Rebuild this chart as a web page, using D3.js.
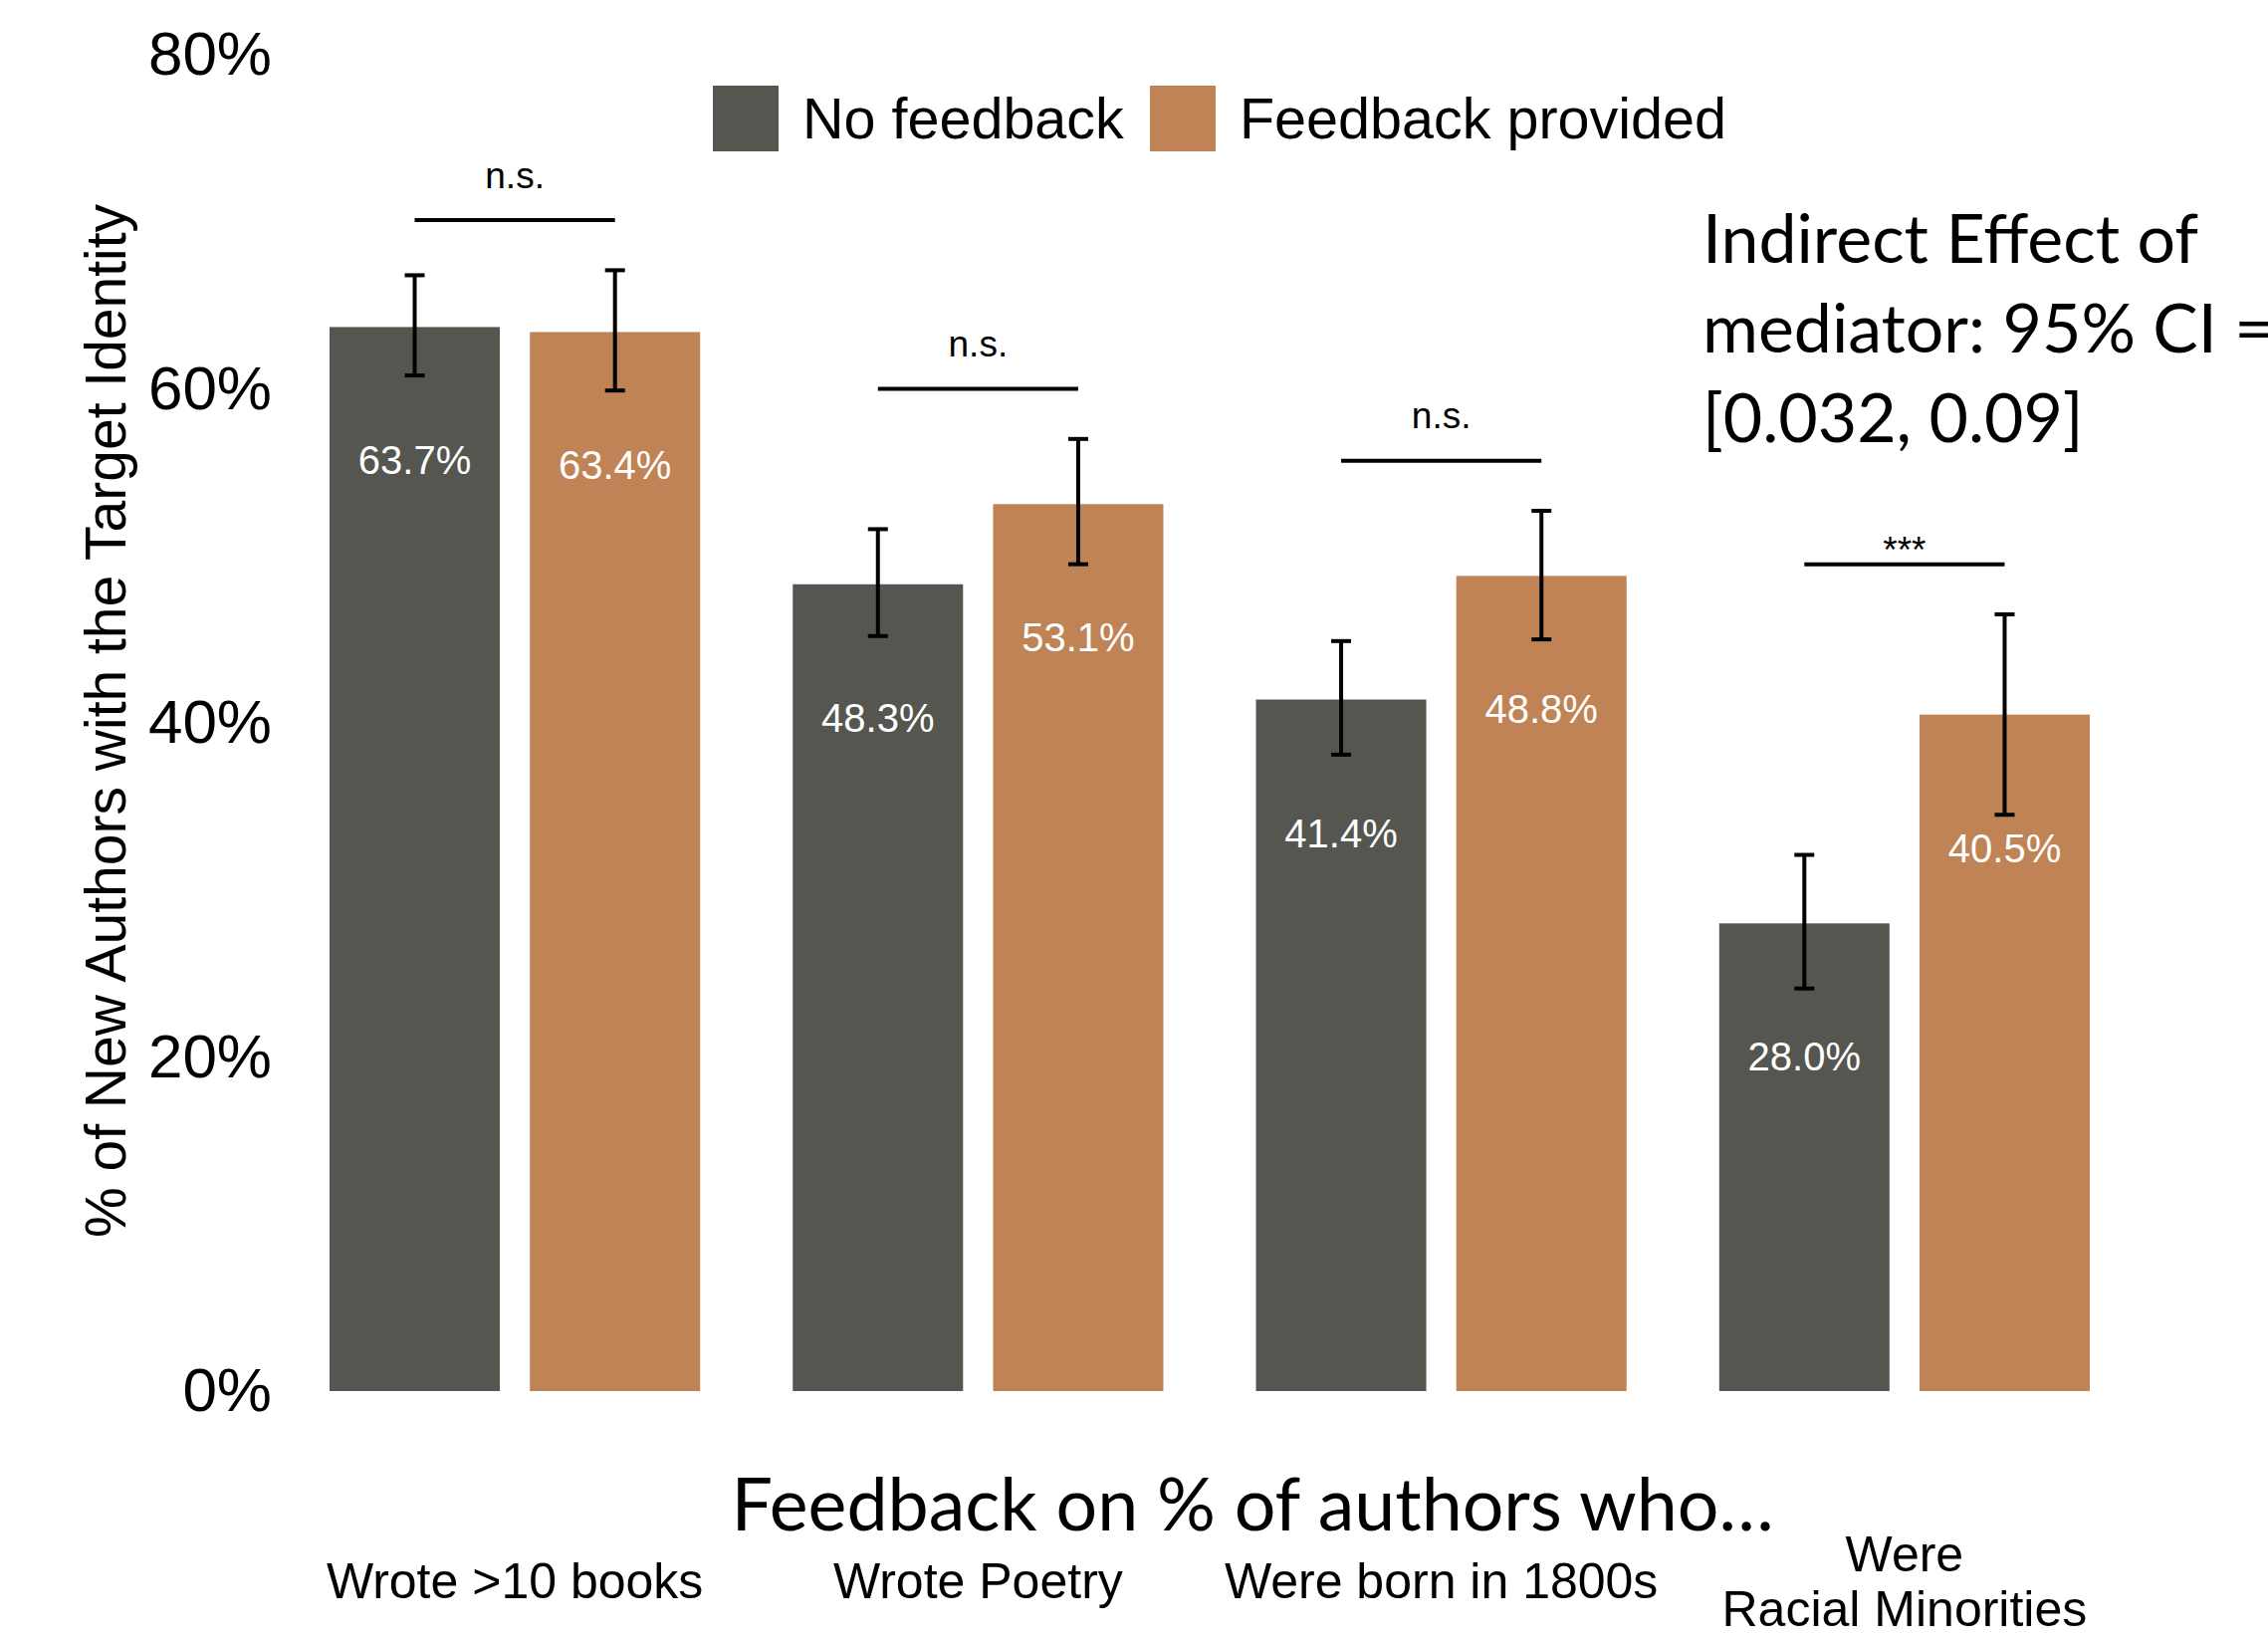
<!DOCTYPE html>
<html>
<head>
<meta charset="utf-8">
<script src="https://cdn.jsdelivr.net/npm/d3@7"></script>
<style>
  body { margin: 0; background: #fff; }
  text { font-family: "Liberation Sans", Arial, sans-serif; }
  .calibri { font-family: Lato, "Open Sans", sans-serif; }
</style>
</head>
<body>
<div id="chart"></div>
<script>
// values (percent)
const groups = ["Wrote >10 books", "Wrote Poetry", "Were born in 1800s", "Were\nRacial Minorities"];
const series = ["No feedback", "Feedback provided"];
const noFeedback = [63.7, 48.3, 41.4, 28.0];
const feedback = [63.4, 53.1, 48.8, 40.5];
const noFeedbackLow = [60.8, 45.2, 38.1, 24.1];
const noFeedbackHigh = [66.8, 51.6, 44.9, 32.1];
const feedbackLow = [59.9, 49.5, 45.0, 34.5];
const feedbackHigh = [67.1, 57.0, 52.7, 46.5];
const sigLabels = ["n.s.", "n.s.", "n.s.", "***"];
const yTicks = [0, 20, 40, 60, 80];
const noteLines = ["Indirect Effect of", "mediator: 95% CI =", "[0.032, 0.09]"];

const width = 2278, height = 1648;
const colors = ["#555650", "#c08355"];

const svg = d3.select("#chart").append("svg")
  .attr("width", width)
  .attr("height", height);

const y = d3.scaleLinear().domain([0, 80]).range([1397, 55]);

const x0 = d3.scaleBand()
  .domain(groups)
  .range([331, 2099])
  .paddingInner(0.2)
  .paddingOuter(0);

const x1 = d3.scaleBand()
  .domain(series)
  .range([0, x0.bandwidth()])
  .paddingInner(0.15);

// build rows
const rows = groups.map((g, i) => ({
  group: g,
  sig: sigLabels[i],
  bars: [
    { s: series[0], v: noFeedback[i], lo: noFeedbackLow[i], hi: noFeedbackHigh[i] },
    { s: series[1], v: feedback[i], lo: feedbackLow[i], hi: feedbackHigh[i] }
  ]
}));

// y axis
const yAxis = svg.append("g")
  .attr("transform", "translate(290,0)")
  .call(d3.axisLeft(y).tickValues(yTicks).tickSize(0).tickPadding(17).tickFormat(d => d + "%"));
yAxis.select(".domain").remove();
yAxis.selectAll("text")
  .style("font-family", "'Liberation Sans', Arial, sans-serif")
  .style("font-size", "62px")
  .attr("fill", "#000");

svg.append("text")
  .attr("transform", "translate(106,724) rotate(-90)")
  .attr("text-anchor", "middle")
  .attr("dominant-baseline", "central")
  .style("font-size", "57px")
  .text("% of New Authors with the Target Identity");

const g = svg.selectAll(".grp")
  .data(rows)
  .enter().append("g")
  .attr("class", "grp")
  .attr("transform", d => "translate(" + x0(d.group) + ",0)");

g.selectAll("rect")
  .data(d => d.bars)
  .enter().append("rect")
  .attr("x", d => x1(d.s))
  .attr("width", x1.bandwidth())
  .attr("y", d => y(d.v))
  .attr("height", d => y(0) - y(d.v))
  .attr("fill", (d, i) => colors[i]);

// value labels
g.selectAll(".val")
  .data(d => d.bars)
  .enter().append("text")
  .attr("class", "val")
  .attr("x", d => x1(d.s) + x1.bandwidth() / 2)
  .attr("y", d => y(d.v) + 134)
  .attr("text-anchor", "middle")
  .attr("dominant-baseline", "central")
  .attr("fill", "#fff")
  .style("font-size", "40px")
  .text(d => d.v.toFixed(1) + "%");

// error bars
const eb = g.selectAll(".err")
  .data(d => d.bars)
  .enter().append("g")
  .attr("class", "err")
  .attr("stroke", "#000")
  .attr("stroke-width", 4);
const cx = d => x1(d.s) + x1.bandwidth() / 2;
eb.append("line")
  .attr("x1", cx).attr("x2", cx)
  .attr("y1", d => y(d.hi)).attr("y2", d => y(d.lo));
eb.append("line")
  .attr("x1", d => cx(d) - 10).attr("x2", d => cx(d) + 10)
  .attr("y1", d => y(d.hi)).attr("y2", d => y(d.hi));
eb.append("line")
  .attr("x1", d => cx(d) - 10).attr("x2", d => cx(d) + 10)
  .attr("y1", d => y(d.lo)).attr("y2", d => y(d.lo));

// significance brackets
const sigY = d => y(d3.max(d.bars, b => b.hi) + 3);
g.append("line")
  .attr("x1", x1(series[0]) + x1.bandwidth() / 2)
  .attr("x2", x1(series[1]) + x1.bandwidth() / 2)
  .attr("y1", sigY).attr("y2", sigY)
  .attr("stroke", "#000")
  .attr("stroke-width", 4);
g.append("text")
  .attr("x", x0.bandwidth() / 2)
  .attr("y", d => sigY(d) - (d.sig === "***" ? 14 : 45))
  .attr("text-anchor", "middle")
  .attr("dominant-baseline", "central")
  .style("font-size", "37px")
  .text(d => d.sig);

// category labels
g.append("text")
  .attr("text-anchor", "middle")
  .style("font-size", "50px")
  .each(function (d) {
    const lines = d.group.split("\n");
    const t = d3.select(this);
    lines.forEach((ln, i) => {
      t.append("tspan")
        .attr("x", x0.bandwidth() / 2)
        .attr("y", 1588 + (i - (lines.length - 1) / 2) * 55)
        .attr("dominant-baseline", "central")
        .text(ln);
    });
  });

// x title
svg.append("text")
  .attr("class", "calibri")
  .attr("x", 1258)
  .attr("y", 1508)
  .attr("text-anchor", "middle")
  .attr("dominant-baseline", "central")
  .style("font-size", "73.5px")
  .text("Feedback on % of authors who\u2026");

// legend
const legend = svg.append("g").attr("transform", "translate(716,86)");
const legX = [0, 439];
series.forEach((s, i) => {
  legend.append("rect")
    .attr("x", legX[i]).attr("y", 0)
    .attr("width", 66).attr("height", 66)
    .attr("fill", colors[i]);
  legend.append("text")
    .attr("x", legX[i] + 90)
    .attr("y", 33)
    .attr("dominant-baseline", "central")
    .style("font-size", "57.5px")
    .text(s);
});

// mediation note (runs off the right edge, as in the original)
svg.append("text")
  .attr("class", "calibri")
  .style("font-size", "68px")
  .selectAll("tspan")
  .data(noteLines)
  .enter().append("tspan")
  .attr("x", 1710)
  .attr("y", (d, i) => 237 + i * 90)
  .attr("dominant-baseline", "central")
  .text(d => d);
</script>
</body>
</html>
